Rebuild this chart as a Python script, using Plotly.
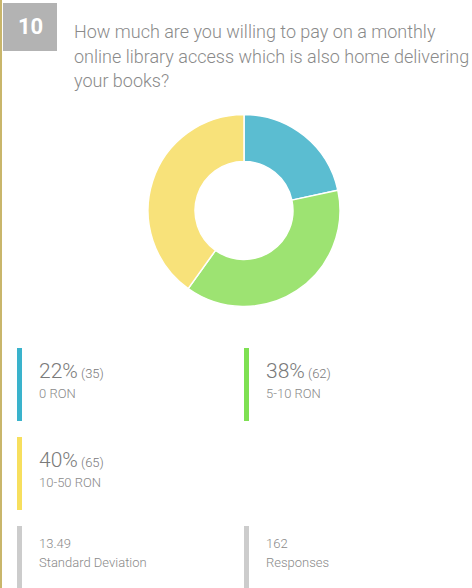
import plotly.graph_objects as go

W, H = 472, 588

question_number = "10"
question_lines = [
    "How much are you willing to pay on a monthly",
    "online library access which is also home delivering",
    "your books?",
]
labels = ["0 RON", "5-10 RON", "10-50 RON"]
counts = [35, 62, 65]
slice_colors = ["#5bbdd1", "#9de372", "#f8e27a"]
bar_colors = ["#3ab3cc", "#7ee052", "#f7df5e"]
std_dev = 13.49
responses = 162

total = sum(counts)


def px(x):
    return x / W


def py(y):
    return 1 - y / H


fig = go.Figure()
fig.add_trace(go.Pie(
    labels=labels,
    values=counts,
    hole=0.51,
    sort=False,
    direction="clockwise",
    rotation=0,
    textinfo="none",
    hoverinfo="label+value+percent",
    marker=dict(colors=slice_colors, line=dict(color="white", width=1.5)),
    domain=dict(x=[px(148), px(340)], y=[py(307), py(114)]),
    showlegend=False,
))

shapes = []
annotations = []

# left gold border
shapes.append(dict(type="rect", xref="paper", yref="paper",
                   x0=px(0), x1=px(2), y0=0, y1=1,
                   fillcolor="#c9b66b", line=dict(width=0), layer="above"))
# number box
shapes.append(dict(type="path", xref="paper", yref="paper",
                   path=None, layer="below"))
shapes.pop()
shapes.append(dict(type="rect", xref="paper", yref="paper",
                   x0=px(3), x1=px(57), y0=py(51), y1=py(3),
                   fillcolor="#b3b3b3", line=dict(width=0)))
annotations.append(dict(x=px(30), y=py(27), xref="paper", yref="paper",
                        text="<b>%s</b>" % question_number, showarrow=False,
                        font=dict(family="Roboto", size=22, color="white"),
                        xanchor="center", yanchor="middle"))

# question text
for i, line in enumerate(question_lines):
    annotations.append(dict(x=px(72), y=py(31 + 25 * i), xref="paper", yref="paper",
                            text=line, showarrow=False,
                            font=dict(family="Roboto", size=18, color="#8a8a8a", weight=300),
                            xanchor="left", yanchor="middle"))

# legend items
positions = [(17, 348), (244, 348), (17, 437)]
for (x0, y0), lab, c, col in zip(positions, labels, counts, bar_colors):
    shapes.append(dict(type="rect", xref="paper", yref="paper",
                       x0=px(x0), x1=px(x0 + 5), y0=py(y0 + 73), y1=py(y0),
                       fillcolor=col, line=dict(width=0)))
    pct = round(100 * c / total)
    annotations.append(dict(x=px(x0 + 20), y=py(y0 + 23), xref="paper", yref="paper",
                            text="%d%%<span style='font-size:13px'> (%d)</span>" % (pct, c),
                            showarrow=False,
                            font=dict(family="Roboto", size=21, color="#7a7a7a", weight=300),
                            xanchor="left", yanchor="middle"))
    annotations.append(dict(x=px(x0 + 20), y=py(y0 + 45), xref="paper", yref="paper",
                            text=lab, showarrow=False,
                            font=dict(family="Roboto", size=13, color="#8a8a8a", weight=300),
                            xanchor="left", yanchor="middle"))

# stats
stats = [(17, "%.2f" % std_dev, "Standard Deviation"), (244, "%d" % responses, "Responses")]
for x0, val, lab in stats:
    shapes.append(dict(type="rect", xref="paper", yref="paper",
                       x0=px(x0), x1=px(x0 + 5), y0=0, y1=py(526),
                       fillcolor="#cccccc", line=dict(width=0)))
    annotations.append(dict(x=px(x0 + 20), y=py(543), xref="paper", yref="paper",
                            text=val, showarrow=False,
                            font=dict(family="Roboto", size=13, color="#8a8a8a", weight=300),
                            xanchor="left", yanchor="middle"))
    annotations.append(dict(x=px(x0 + 20), y=py(562), xref="paper", yref="paper",
                            text=lab, showarrow=False,
                            font=dict(family="Roboto", size=13, color="#8a8a8a", weight=300),
                            xanchor="left", yanchor="middle"))

fig.update_layout(
    width=W, height=H,
    margin=dict(l=0, r=0, t=0, b=0),
    paper_bgcolor="white", plot_bgcolor="white",
    shapes=shapes, annotations=annotations,
)

fig.write_html("out.html", include_plotlyjs=True, config={"displayModeBar": False})
